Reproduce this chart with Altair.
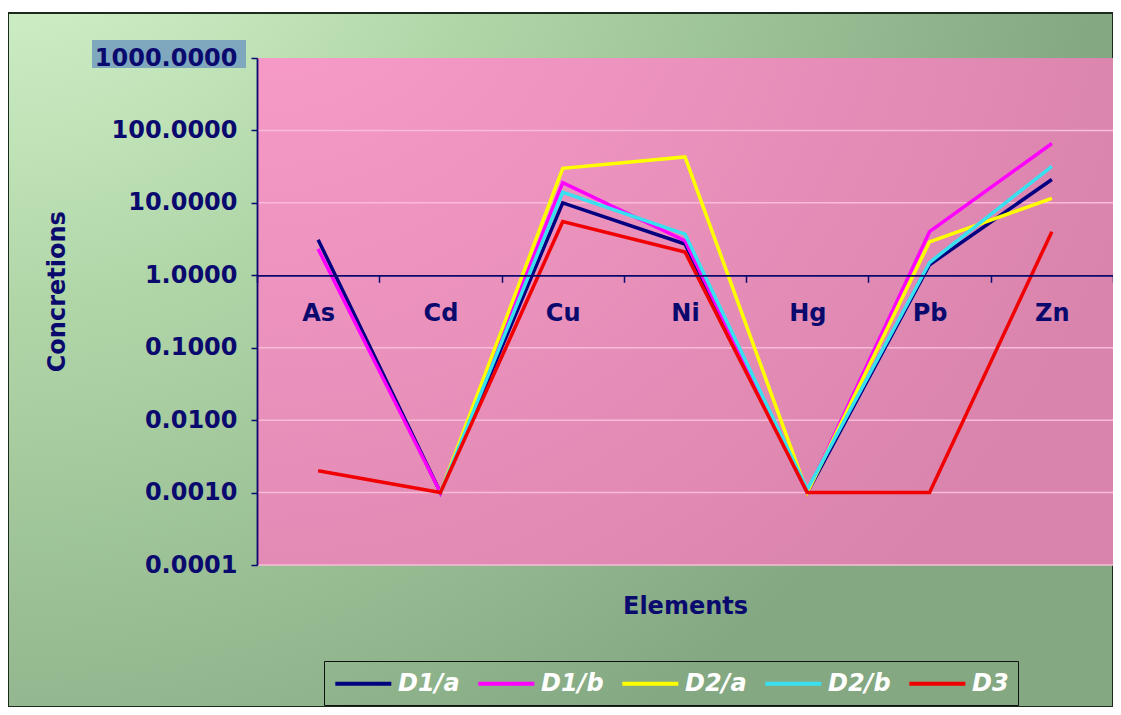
import altair as alt
import pandas as pd

elements = ["As", "Cd", "Cu", "Ni", "Hg", "Pb", "Zn"]
series_names = ["D1/a", "D1/b", "D2/a", "D2/b", "D3"]
d1a = [3.1, 0.001, 10.0, 2.7, 0.001, 1.4, 21.0]
d1b = [2.3, 0.001, 19.0, 3.0, 0.001, 4.0, 66.0]
d2a = [None, 0.001, 30.0, 43.0, 0.001, 2.9, 11.5]
d2b = [None, 0.001, 14.0, 3.7, 0.0011, 1.5, 32.0]
d3 = [0.002, 0.001, 5.5, 2.1, 0.001, 0.001, 4.0]
colors = ["#000080", "#ff00ff", "#ffff00", "#38e0f0", "#f00000"]
y_ticks = [0.0001, 0.001, 0.01, 0.1, 1, 10, 100, 1000]
grid_vals = [0.0001, 0.001, 0.01, 0.1, 10, 100]

rows = []
for name, vals in zip(series_names, [d1a, d1b, d2a, d2b, d3]):
    for e, v in zip(elements, vals):
        rows.append({"Element": e, "Series": name, "Value": v})
df = pd.DataFrame(rows)

W, H = 856, 507
PL, PT, PR, PB = 249, 50, 0, 142
FONT = "DejaVu Sans"
NAVY = "#0a0a6e"

one = pd.DataFrame({"k": [0]})

outer_bg = alt.Chart(one).mark_rect(
    fill={"gradient": "radial", "x1": 0, "y1": 0, "r1": 0, "x2": 0, "y2": 0, "r2": 1,
          "stops": [{"offset": 0, "color": "#e0fcd8"},
                    {"offset": 0.45, "color": "#b0d6a8"},
                    {"offset": 1, "color": "#84a882"}]},
    stroke="#1c2a1c", strokeWidth=2,
).encode(x=alt.value(-PL), x2=alt.value(W + PR), y=alt.value(-45), y2=alt.value(H + PB))

label_hl = alt.Chart(one).mark_rect(fill="#7fa8bf").encode(
    x=alt.value(-165), x2=alt.value(-11), y=alt.value(-18), y2=alt.value(10)
)

plot_bg = alt.Chart(one).mark_rect(
    fill={"gradient": "radial", "x1": 0, "y1": 0, "r1": 0, "x2": 0, "y2": 0, "r2": 1.1,
          "stops": [{"offset": 0, "color": "#fc9ecd"},
                    {"offset": 1, "color": "#d984ac"}]},
).encode(x=alt.value(0), x2=alt.value(W), y=alt.value(0), y2=alt.value(H))

grid = alt.Chart(pd.DataFrame({"g": grid_vals})).mark_rule(
    color="#f8bcd8", strokeWidth=1.5
).encode(
    y=alt.Y("g:Q", scale=alt.Scale(type="log", domain=[0.0001, 1000], nice=False)),
    x=alt.value(0), x2=alt.value(W),
)

lines = alt.Chart(df).mark_line(strokeWidth=3.5).encode(
    x=alt.X("Element:N", sort=elements,
            scale=alt.Scale(domain=elements, paddingInner=0, paddingOuter=0),
            axis=alt.Axis(
                title="Elements", titleY=331, titleBaseline="middle",
                titleFont=FONT, titleFontSize=24, titleFontWeight="bold", titleColor=NAVY,
                offset=-(H * 4 / 7), domainColor=NAVY, domainWidth=1.8,
                tickBand="extent", tickColor=NAVY, tickSize=7, tickWidth=1.5,
                labelAngle=0, labelPadding=19, labelFont=FONT, labelFontSize=24,
                labelFontWeight="bold", labelColor=NAVY, grid=False, zindex=1)),
    y=alt.Y("Value:Q",
            scale=alt.Scale(type="log", domain=[0.0001, 1000], nice=False),
            axis=alt.Axis(
                title="Concretions", titleX=-200, titleY=H * 0.46, titleAngle=270,
                titleBaseline="middle", titleAlign="center",
                titleFont=FONT, titleFontSize=24, titleFontWeight="bold", titleColor=NAVY,
                values=y_ticks, format=".4f", domainColor=NAVY, domainWidth=1.8,
                tickColor=NAVY, tickSize=6, tickWidth=1.5, labelPadding=14,
                labelFont=FONT, labelFontSize=24, labelFontWeight="bold", labelColor=NAVY,
                grid=False, zindex=1)),
    color=alt.Color("Series:N", sort=series_names,
                    scale=alt.Scale(domain=series_names, range=colors),
                    legend=alt.Legend(
                        title=None, orient="none", legendX=67, legendY=603,
                        direction="horizontal", symbolType="M-1,0H4", symbolSize=502,
                        symbolStrokeWidth=4, symbolFillColor="transparent",
                        labelFont=FONT, labelFontSize=24,
                        labelFontStyle="italic", labelFontWeight="bold", labelColor="white",
                        strokeColor="#111111", padding=9, columnPadding=10,
                        labelOffset=38, zindex=1)),
    order=alt.Order("Element_idx:Q"),
).transform_calculate(
    Element_idx="indexof(" + str(elements) + ", datum.Element)"
)

chart = alt.layer(outer_bg, label_hl, plot_bg, grid, lines).properties(
    width=W, height=H,
    autosize=alt.AutoSizeParams(type="none"),
    padding={"left": PL, "top": PT, "right": PR, "bottom": PB},
).configure_view(stroke=None).configure(background="#ffffff")

chart.save("out.html", embed_options={"renderer": "svg", "actions": False})
